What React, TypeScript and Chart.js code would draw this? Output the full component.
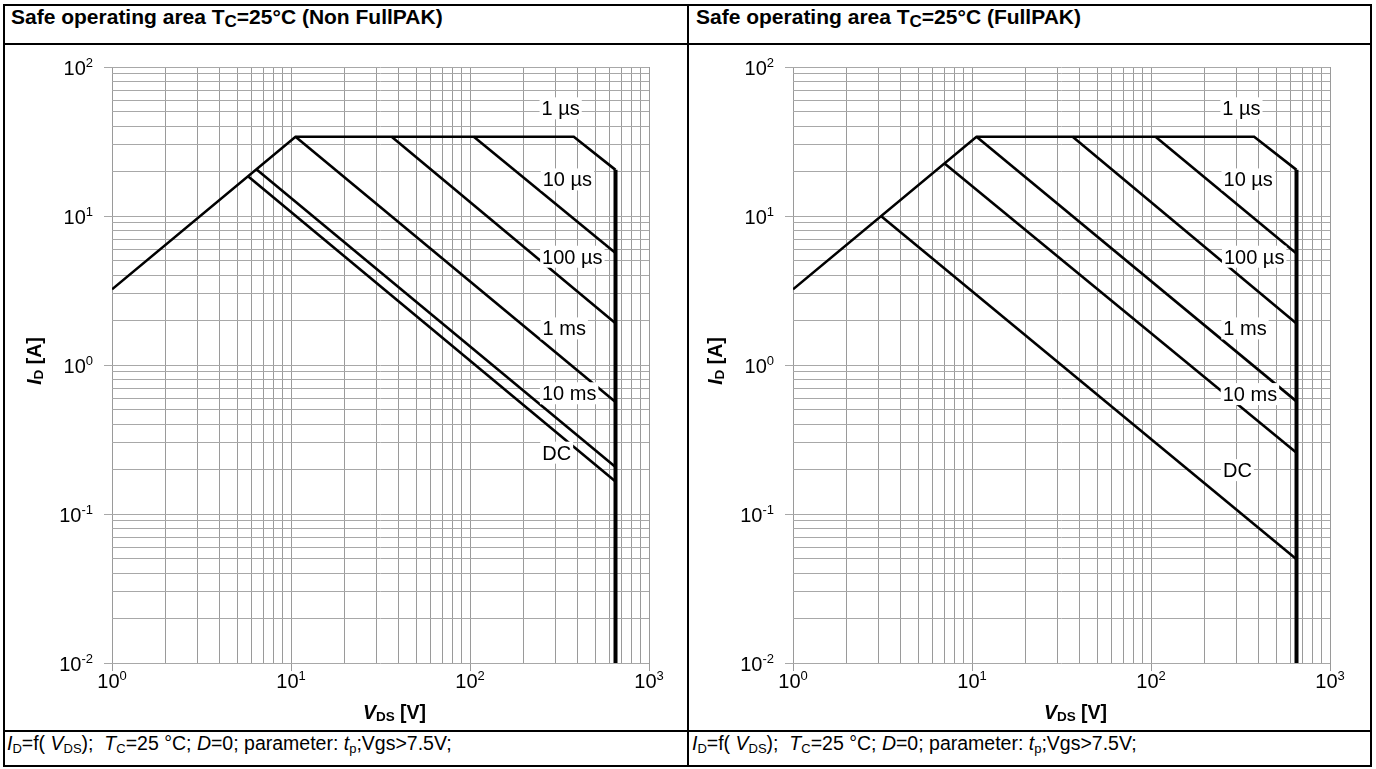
import React, { useEffect, useRef } from 'react';
import { Chart, registerables } from 'chart.js';

Chart.register(...registerables);

const FONT = '"Liberation Sans", Arial, Helvetica, sans-serif';

// ---- axis ticks ----
const X_DECADES = [1, 10, 100, 1000];
const X_EXPONENTS = ['0', '1', '2', '3'];
const Y_DECADES = [0.01, 0.1, 1, 10, 100];
const Y_EXPONENTS = ['-2', '-1', '0', '1', '2'];
const GRID_STEPS = [1, 2, 3, 4, 5, 6, 7, 8, 9];

const CURVE_NAMES = ['1 µs', '10 µs', '100 µs', '1 ms', '10 ms', 'DC'];

// ---- Non FullPAK (V_DS [V], I_D [A]) ----
const NF_1US_V = [1, 10.6, 380, 650];
const NF_1US_I = [3.22, 34, 34, 20.4];
const NF_10US_V = [105, 650];
const NF_10US_I = [34, 5.65];
const NF_100US_V = [36.5, 650];
const NF_100US_I = [34, 1.91];
const NF_1MS_V = [10.6, 650];
const NF_1MS_I = [34, 0.565];
const NF_10MS_V = [6.4, 650];
const NF_10MS_I = [20.6, 0.207];
const NF_DC_V = [5.75, 650];
const NF_DC_I = [18.5, 0.165];
const NF_LIMIT_V = [650, 650];
const NF_LIMIT_I = [20.4, 0.01];
const NF_LABEL_V = [321, 350, 373, 336, 358, 305];
const NF_LABEL_I = [52.8, 17.6, 5.33, 1.76, 0.646, 0.258];

// ---- FullPAK ----
const FP_1US_V = [1, 10.6, 377, 650];
const FP_1US_I = [3.22, 34, 34, 20.4];
const FP_10US_V = [106, 650];
const FP_10US_I = [34, 5.6];
const FP_100US_V = [36.5, 650];
const FP_100US_I = [34, 1.9];
const FP_1MS_V = [10.6, 650];
const FP_1MS_I = [34, 0.57];
const FP_10MS_V = [7.0, 650];
const FP_10MS_I = [22.6, 0.258];
const FP_DC_V = [3.1, 650];
const FP_DC_I = [10, 0.0497];
const FP_LIMIT_V = [650, 650];
const FP_LIMIT_I = [20.4, 0.01];
const FP_LABEL_V = [320, 349, 377, 335, 357, 304];
const FP_LABEL_I = [52.8, 17.6, 5.33, 1.76, 0.638, 0.197];

const X_GRID = X_DECADES.flatMap((d, k) => (k === X_DECADES.length - 1 ? [d] : GRID_STEPS.map((s) => s * d)));
const Y_GRID = Y_DECADES.flatMap((d, k) => (k === Y_DECADES.length - 1 ? [d] : GRID_STEPS.map((s) => s * d)));

const isDecade = (v: number) => Math.abs(Math.log10(v) - Math.round(Math.log10(v))) < 1e-6;

type Seg = { t: string; font: string; dy?: number };

function drawSegs(ctx: CanvasRenderingContext2D, segs: Seg[], cx: number, baseline: number) {
  let total = 0;
  const widths = segs.map((s) => {
    ctx.font = s.font;
    const w = ctx.measureText(s.t).width;
    total += w;
    return w;
  });
  let x = cx - total / 2;
  ctx.textAlign = 'left';
  ctx.textBaseline = 'alphabetic';
  segs.forEach((s, k) => {
    ctx.font = s.font;
    ctx.fillText(s.t, x, baseline + (s.dy || 0));
    x += widths[k];
  });
}

type Curve = { v: number[]; i: number[]; w: number };

function makeTextPlugin(labelV: number[], labelI: number[]) {
  return {
    id: 'soaText',
    afterDraw(chart: any) {
      const ctx: CanvasRenderingContext2D = chart.ctx;
      const { left, right, top, bottom } = chart.chartArea;
      const xs = chart.scales.x;
      const ys = chart.scales.y;
      ctx.save();
      ctx.fillStyle = '#000';

      // curve labels with white boxes
      ctx.font = `20px ${FONT}`;
      CURVE_NAMES.forEach((n, k) => {
        const px = xs.getPixelForValue(labelV[k]);
        const py = ys.getPixelForValue(labelI[k]);
        const w = ctx.measureText(n).width;
        ctx.fillStyle = '#fff';
        ctx.fillRect(px - w / 2 - 2, py - 11, w + 4, 22);
        ctx.fillStyle = '#000';
        ctx.textAlign = 'center';
        ctx.textBaseline = 'alphabetic';
        ctx.fillText(n, px, py + 7);
      });

      // x tick labels
      X_DECADES.forEach((d, k) => {
        const px = xs.getPixelForValue(d);
        ctx.font = `20px ${FONT}`;
        const w1 = ctx.measureText('10').width;
        ctx.font = `13px ${FONT}`;
        const w2 = ctx.measureText(X_EXPONENTS[k]).width;
        const x0 = px - (w1 + w2) / 2;
        const base = bottom + 25;
        ctx.textAlign = 'left';
        ctx.textBaseline = 'alphabetic';
        ctx.font = `20px ${FONT}`;
        ctx.fillText('10', x0, base);
        ctx.font = `13px ${FONT}`;
        ctx.fillText(X_EXPONENTS[k], x0 + w1, base - 8);
      });

      // y tick labels
      Y_DECADES.forEach((d, k) => {
        const py = ys.getPixelForValue(d);
        ctx.font = `13px ${FONT}`;
        const w2 = ctx.measureText(Y_EXPONENTS[k]).width;
        ctx.font = `20px ${FONT}`;
        const w1 = ctx.measureText('10').width;
        const xr = left - 19;
        const base = py + 8;
        ctx.textAlign = 'left';
        ctx.textBaseline = 'alphabetic';
        ctx.font = `20px ${FONT}`;
        ctx.fillText('10', xr - w2 - w1, base);
        ctx.font = `13px ${FONT}`;
        ctx.fillText(Y_EXPONENTS[k], xr - w2, base - 8);
      });

      // x axis title
      drawSegs(
        ctx,
        [
          { t: 'V', font: `italic bold 19.5px ${FONT}` },
          { t: 'DS', font: `bold 13.5px ${FONT}`, dy: 2 },
          { t: ' [V]', font: `bold 19.5px ${FONT}` },
        ],
        (left + right) / 2 + 14,
        bottom + 56
      );

      // y axis title (rotated)
      ctx.translate(left - 71, (top + bottom) / 2);
      ctx.rotate(-Math.PI / 2);
      drawSegs(
        ctx,
        [
          { t: 'I', font: `italic bold 19.5px ${FONT}` },
          { t: 'D', font: `bold 13.5px ${FONT}`, dy: 2 },
          { t: ' [A]', font: `bold 19.5px ${FONT}` },
        ],
        4,
        0
      );
      ctx.restore();
    },
  };
}

function SoaChart(props: {
  curves: Curve[];
  labelV: number[];
  labelI: number[];
  x: number;
  y: number;
  width: number;
  height: number;
  axisW: number;
  padTop: number;
  padRight: number;
}) {
  const ref = useRef<HTMLCanvasElement>(null);
  useEffect(() => {
    const chart = new Chart(ref.current as HTMLCanvasElement, {
      type: 'line',
      data: {
        datasets: props.curves.map((c) => ({
          data: c.v.map((v, k) => ({ x: v, y: c.i[k] })),
          borderColor: '#000',
          borderWidth: c.w,
          pointRadius: 0,
          fill: false,
          tension: 0,
          borderJoinStyle: 'miter',
        })),
      } as any,
      options: {
        animation: false,
        responsive: false,
        maintainAspectRatio: false,
        layout: { padding: { left: 0, right: props.padRight, top: props.padTop, bottom: 0 } },
        plugins: { legend: { display: false }, tooltip: { enabled: false }, title: { display: false } },
        scales: {
          x: {
            type: 'logarithmic',
            min: 1,
            max: 1000,
            afterBuildTicks: (s: any) => {
              s.ticks = X_GRID.map((v) => ({ value: v }));
            },
            afterFit: (s: any) => {
              s.height = props.height - props.padTop - 596;
            },
            ticks: { display: false },
            border: { display: false },
            grid: {
              color: '#9a9a9a',
              lineWidth: 1,
              drawTicks: true,
              tickLength: 8,
              tickColor: (c: any) => (c.tick && isDecade(c.tick.value) ? '#9a9a9a' : 'rgba(0,0,0,0)'),
            },
          },
          y: {
            type: 'logarithmic',
            min: 0.01,
            max: 100,
            afterBuildTicks: (s: any) => {
              s.ticks = Y_GRID.map((v) => ({ value: v }));
            },
            afterFit: (s: any) => {
              s.width = props.axisW;
            },
            ticks: { display: false },
            border: { display: false },
            grid: {
              color: '#a8a8a8',
              lineWidth: 1,
              drawTicks: true,
              tickLength: 8,
              tickColor: (c: any) => (c.tick && isDecade(c.tick.value) ? '#a8a8a8' : 'rgba(0,0,0,0)'),
            },
          },
        },
      } as any,
      plugins: [makeTextPlugin(props.labelV, props.labelI)],
    });
    return () => chart.destroy();
  }, []);
  return (
    <canvas
      ref={ref}
      width={props.width}
      height={props.height}
      style={{ position: 'absolute', left: props.x, top: props.y, width: props.width, height: props.height }}
    />
  );
}

const LW = 2.6;
const LIMIT_W = 4;

const NF_CURVES: Curve[] = [
  { v: NF_1US_V, i: NF_1US_I, w: LW },
  { v: NF_10US_V, i: NF_10US_I, w: LW },
  { v: NF_100US_V, i: NF_100US_I, w: LW },
  { v: NF_1MS_V, i: NF_1MS_I, w: LW },
  { v: NF_10MS_V, i: NF_10MS_I, w: LW },
  { v: NF_DC_V, i: NF_DC_I, w: LW },
  { v: NF_LIMIT_V, i: NF_LIMIT_I, w: LIMIT_W },
];

const FP_CURVES: Curve[] = [
  { v: FP_1US_V, i: FP_1US_I, w: LW },
  { v: FP_10US_V, i: FP_10US_I, w: LW },
  { v: FP_100US_V, i: FP_100US_I, w: LW },
  { v: FP_1MS_V, i: FP_1MS_I, w: LW },
  { v: FP_10MS_V, i: FP_10MS_I, w: LW },
  { v: FP_DC_V, i: FP_DC_I, w: LW },
  { v: FP_LIMIT_V, i: FP_LIMIT_I, w: LIMIT_W },
];

const capSub: React.CSSProperties = { fontSize: 13, verticalAlign: -3 };

function Title(props: { x: number; pak: string }) {
  return (
    <div
      style={{
        position: 'absolute',
        left: props.x,
        top: 5,
        height: 38,
        lineHeight: '38px',
        font: `bold 21px ${FONT}`,
        whiteSpace: 'nowrap',
      }}
    >
      Safe operating area T<span style={{ fontSize: 17, verticalAlign: -3 }}>C</span>=25°C ({props.pak})
    </div>
  );
}

function Caption(props: { x: number }) {
  return (
    <div
      style={{
        position: 'absolute',
        left: props.x,
        top: 732,
        height: 33,
        lineHeight: '33px',
        font: `19.5px ${FONT}`,
        whiteSpace: 'pre',
      }}
    >
      <i>I</i>
      <span style={capSub}>D</span>=f( <i>V</i>
      <span style={capSub}>DS</span>);  <i>T</i>
      <span style={capSub}>C</span>=25 °C; <i>D</i>=0; parameter: <i>t</i>
      <span style={capSub}>p</span>;Vgs&gt;7.5V;
    </div>
  );
}

export default function App() {
  const line = (l: number, t: number, w: number, h: number) => (
    <div style={{ position: 'absolute', left: l, top: t, width: w, height: h, background: '#000' }} />
  );
  return (
    <div
      style={{
        position: 'fixed',
        left: 0,
        top: 0,
        width: 1376,
        height: 769,
        background: '#fff',
        overflow: 'hidden',
        color: '#000',
      }}
    >
      {line(3, 4, 1369, 2)}
      {line(3, 765, 1369, 2)}
      {line(3, 4, 2, 763)}
      {line(1370, 4, 2, 763)}
      {line(687, 4, 2, 763)}
      {line(3, 43, 1369, 2)}
      {line(3, 730, 1369, 2)}
      <Title x={11} pak="Non FullPAK" />
      <Title x={696} pak="FullPAK" />
      <SoaChart
        curves={NF_CURVES}
        labelV={NF_LABEL_V}
        labelI={NF_LABEL_I}
        x={5}
        y={45}
        width={682}
        height={685}
        axisW={107}
        padTop={22}
        padRight={682 - 644}
      />
      <SoaChart
        curves={FP_CURVES}
        labelV={FP_LABEL_V}
        labelI={FP_LABEL_I}
        x={690}
        y={45}
        width={680}
        height={685}
        axisW={103}
        padTop={22}
        padRight={680 - 640}
      />
      <Caption x={7} />
      <Caption x={692} />
    </div>
  );
}
